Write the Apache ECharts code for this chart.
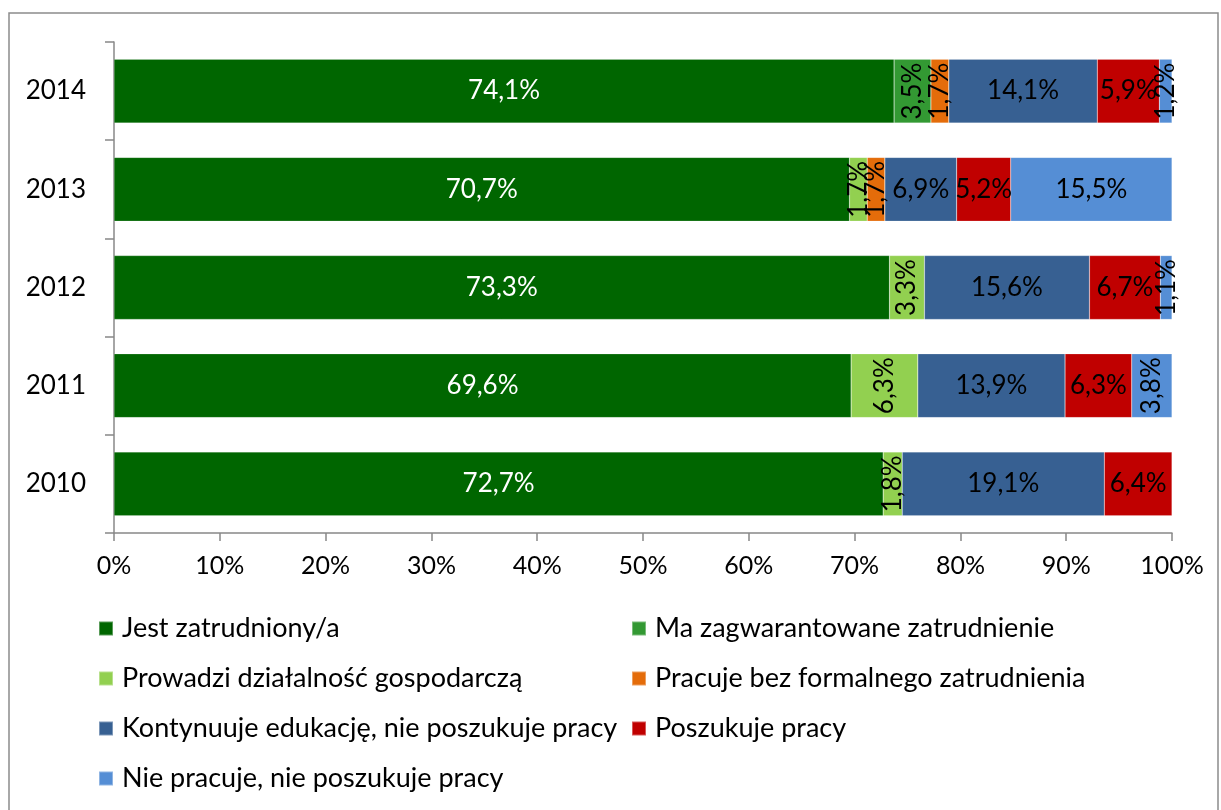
<!DOCTYPE html>
<html>
<head>
<meta charset="utf-8">
<script src="https://cdn.jsdelivr.net/npm/echarts@6/dist/echarts.min.js"></script>
<style>
  html, body { margin: 0; padding: 0; background: #fff; }
  #chart { width: 1221px; height: 810px; }
</style>
</head>
<body>
<div id="chart"></div>
<script>
// years, bottom to top as the axis draws them
var years = ['2010', '2011', '2012', '2013', '2014'];

var seriesNames = [
    'Jest zatrudniony/a',
    'Ma zagwarantowane zatrudnienie',
    'Prowadzi działalność gospodarczą',
    'Pracuje bez formalnego zatrudnienia',
    'Kontynuuje edukację, nie poszukuje pracy',
    'Poszukuje pracy',
    'Nie pracuje, nie poszukuje pracy'
];

// percent values per year (2010..2014), null = no segment
var zatrudniony   = [72.7, 69.6, 73.3, 70.7, 74.1];
var zagwarantowane = [null, null, null, null, 3.5];
var dzialalnosc   = [1.8, 6.3, 3.3, 1.7, null];
var bezFormalnego = [null, null, null, 1.7, 1.7];
var edukacja      = [19.1, 13.9, 15.6, 6.9, 14.1];
var poszukuje     = [6.4, 6.3, 6.7, 5.2, 5.9];
var niePracuje    = [null, 3.8, 1.1, 15.5, 1.2];

var xTicks = ['0%', '10%', '20%', '30%', '40%', '50%', '60%', '70%', '80%', '90%', '100%'];

var colors = ['#006600', '#339933', '#92D050', '#E46C0A', '#376092', '#C00000', '#558ED5'];
var rotated = [false, true, true, true, false, false, true];

var allData = [zatrudniony, zagwarantowane, dzialalnosc, bezFormalnego, edukacja, poszukuje, niePracuje];

// totals per year, chart is 100% stacked
var totals = years.map(function (y, i) {
    var s = 0;
    allData.forEach(function (d) { if (d[i] != null) s += d[i]; });
    return s;
});

var FONT = 'Lato';

var series = allData.map(function (arr, si) {
    return {
        name: seriesNames[si],
        type: 'bar',
        stack: 'all',
        barCategoryGap: '35%',
        itemStyle: { color: colors[si], borderColor: 'rgba(255,255,255,0.35)', borderWidth: 0.5 },
        data: arr.map(function (v, i) {
            if (v == null) return null;
            var rot = rotated[si] && v < 10;
            return {
                value: v / totals[i] * 100,
                raw: v,
                label: { rotate: rot ? 90 : 0 }
            };
        }),
        label: {
            show: true,
            position: 'inside',
            fontFamily: FONT,
            fontSize: 26,
            color: si === 0 ? '#fff' : '#000',
            formatter: function (p) {
                return p.data.raw.toFixed(1).replace('.', ',') + '%';
            }
        }
    };
});

var legendRows = [[0, 1], [2, 3], [4, 5], [6]];
var legends = [];
legendRows.forEach(function (row, r) {
    row.forEach(function (si, c) {
        legends.push({
            left: c === 0 ? 98 : 631,
            top: 615 + r * 50,
            padding: 0,
            itemWidth: 14,
            itemHeight: 14,
            itemGap: 0,
            icon: 'rect',
            selectedMode: false,
            textStyle: { fontFamily: FONT, fontSize: 27, color: '#000', padding: [0, 0, 0, 4] },
            data: [seriesNames[si]]
        });
    });
});

var chart = echarts.init(document.getElementById('chart'));
chart.setOption({
    animation: false,
    backgroundColor: '#fff',
    grid: { left: 114, right: 49, top: 42, bottom: 277 },
    legend: legends,
    graphic: [{
        type: 'rect',
        shape: { x: 9, y: 13, width: 1209, height: 810 },
        style: { fill: 'none', stroke: '#8c8c8c', lineWidth: 1.5 },
        silent: true
    }],
    xAxis: {
        type: 'value',
        min: 0,
        max: 100,
        interval: 10,
        splitLine: { show: false },
        axisLine: { show: true, lineStyle: { color: '#888', width: 1.5 } },
        axisTick: { show: true, length: 8, lineStyle: { color: '#888', width: 1.5 } },
        axisLabel: {
            fontFamily: FONT, fontSize: 25, color: '#000', margin: 20,
            formatter: function (v) { return xTicks[Math.round(v / 10)]; }
        }
    },
    yAxis: {
        type: 'category',
        data: years,
        axisLine: { show: true, lineStyle: { color: '#888', width: 1.5 } },
        axisTick: { show: true, length: 9, lineStyle: { color: '#888', width: 1.5 } },
        axisLabel: { fontFamily: FONT, fontSize: 26, color: '#000', margin: 28 }
    },
    series: series
});
</script>
</body>
</html>
